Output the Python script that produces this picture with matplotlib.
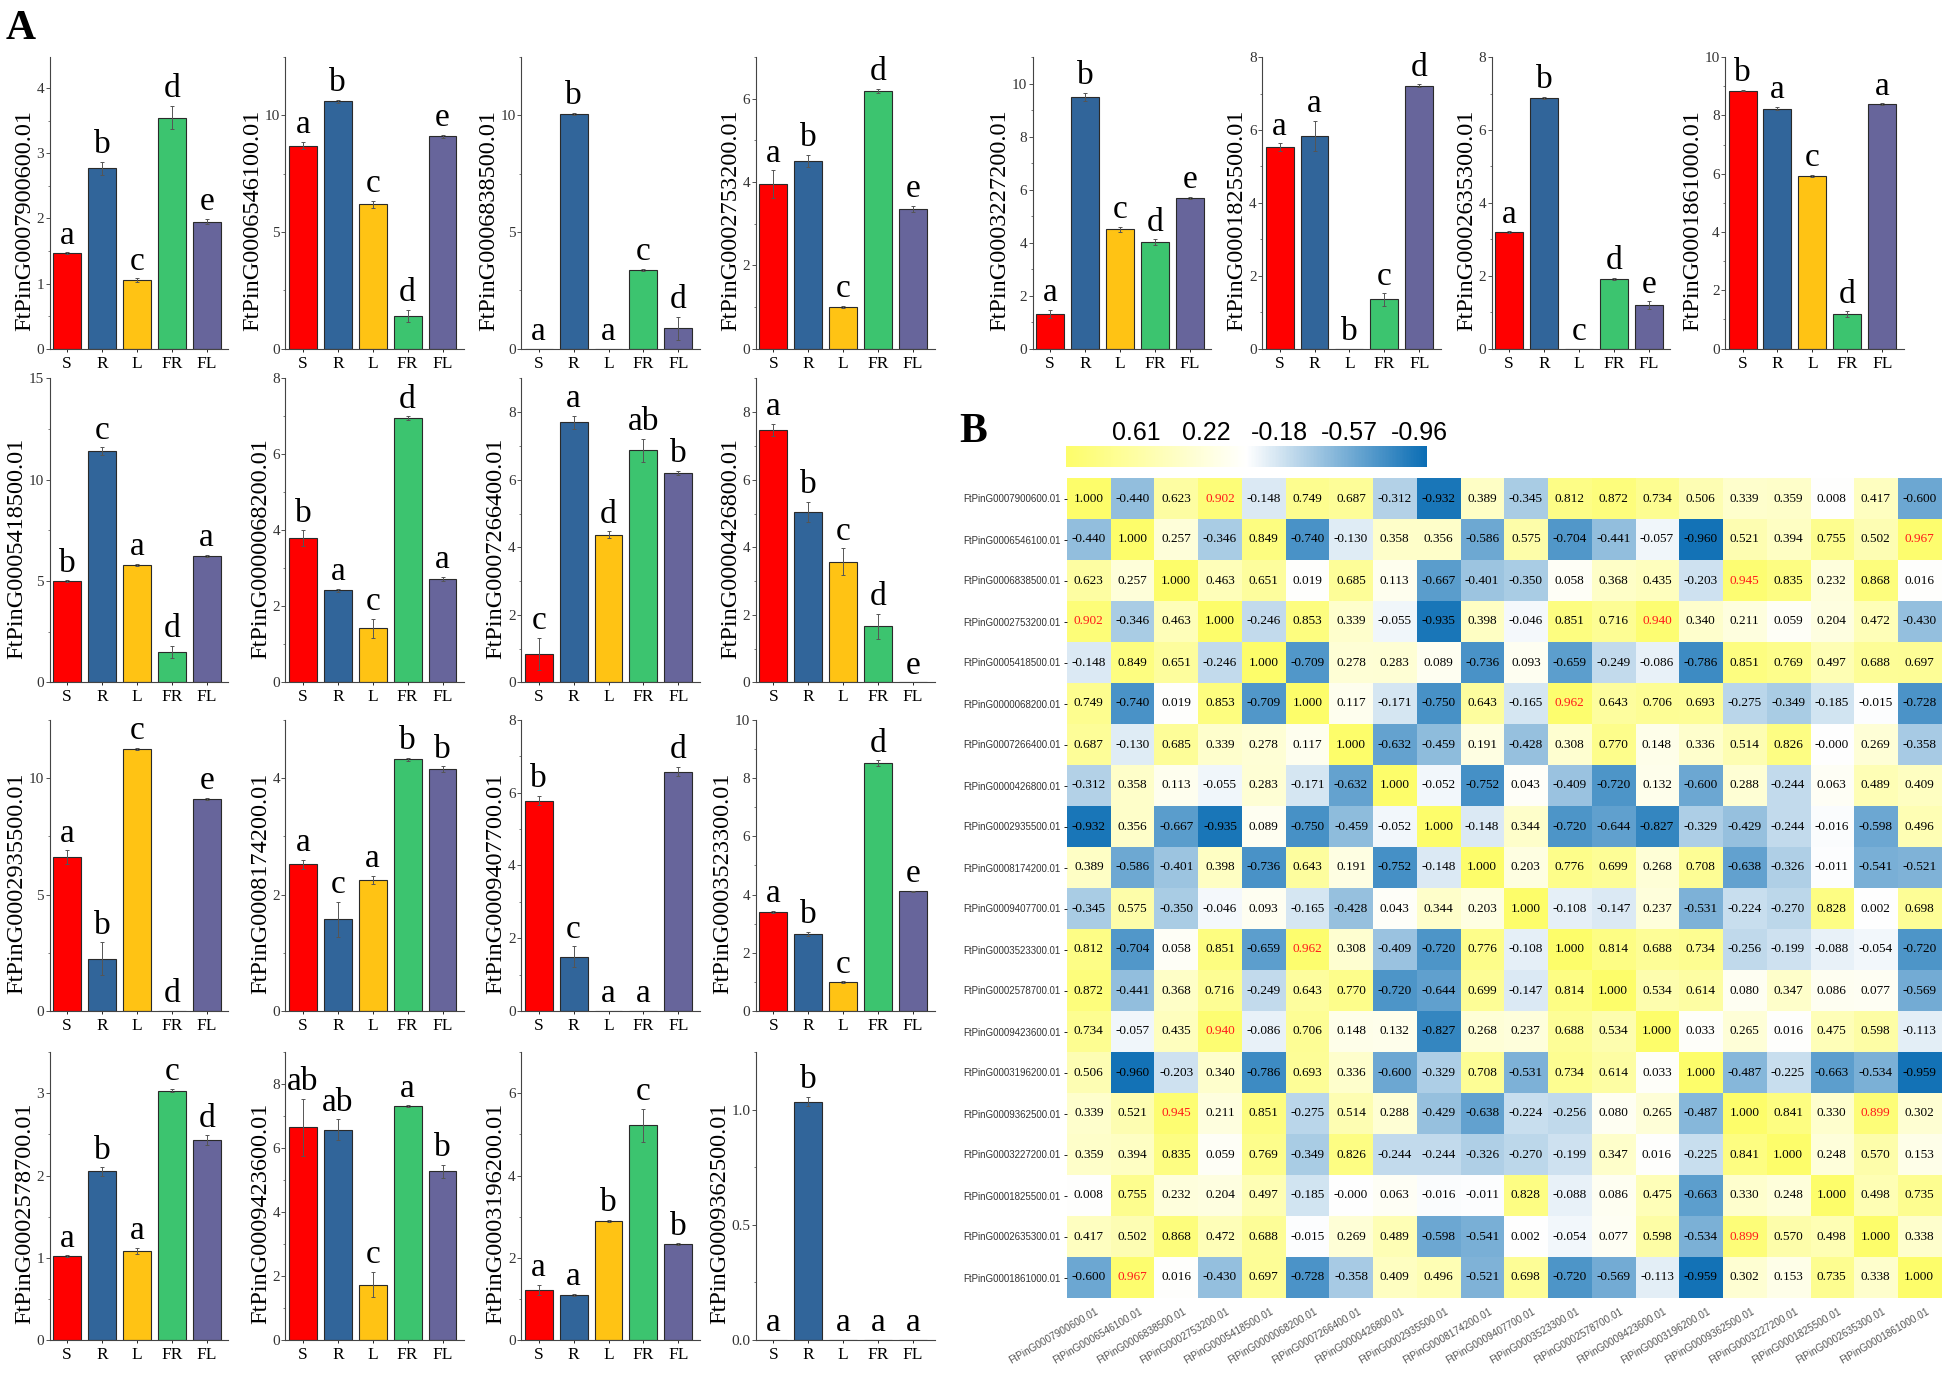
import numpy as np
import matplotlib
matplotlib.use("Agg")
import matplotlib.pyplot as plt
from matplotlib.colors import LinearSegmentedColormap, Normalize
from matplotlib.cm import ScalarMappable
from matplotlib.ticker import AutoMinorLocator

plt.rcParams['font.family'] = ['Liberation Serif', 'DejaVu Serif']

# ---- bar chart data (panel A) ----
tissues = ["S", "R", "L", "FR", "FL"]
bar_colors = ["#ff0000", "#31659a", "#ffc314", "#3cc46f", "#67659b"]

bar_genes = ["FtPinG0007900600.01", "FtPinG0006546100.01", "FtPinG0006838500.01",
             "FtPinG0002753200.01", "FtPinG0003227200.01", "FtPinG0001825500.01",
             "FtPinG0002635300.01", "FtPinG0001861000.01", "FtPinG0005418500.01",
             "FtPinG0000068200.01", "FtPinG0007266400.01", "FtPinG0000426800.01",
             "FtPinG0002935500.01", "FtPinG0008174200.01", "FtPinG0009407700.01",
             "FtPinG0003523300.01", "FtPinG0002578700.01", "FtPinG0009423600.01",
             "FtPinG0003196200.01", "FtPinG0009362500.01"]

means = [[1.47, 2.77, 1.05, 3.55, 1.95],
         [8.7, 10.6, 6.2, 1.4, 9.1],
         [0, 10.05, 0, 3.37, 0.87],
         [3.95, 4.5, 1.0, 6.18, 3.35],
         [1.3, 9.5, 4.5, 4.02, 5.68],
         [5.53, 5.83, 0, 1.35, 7.22],
         [3.2, 6.88, 0, 1.92, 1.2],
         [8.85, 8.23, 5.92, 1.18, 8.38],
         [5.0, 11.4, 5.8, 1.5, 6.25],
         [3.8, 2.42, 1.42, 6.95, 2.72],
         [0.85, 7.7, 4.37, 6.87, 6.2],
         [7.48, 5.05, 3.57, 1.67, 0],
         [6.6, 2.25, 11.25, 0, 9.1],
         [2.52, 1.58, 2.25, 4.32, 4.15],
         [5.78, 1.5, 0, 0, 6.57],
         [3.4, 2.65, 1.0, 8.5, 4.12],
         [1.02, 2.05, 1.08, 3.03, 2.43],
         [6.65, 6.57, 1.73, 7.32, 5.28],
         [1.22, 1.1, 2.9, 5.22, 2.33],
         [0, 1.035, 0, 0, 0]]

errs = [[0.01, 0.1, 0.03, 0.18, 0.04],
        [0.15, 0.05, 0.15, 0.25, 0.05],
        [0, 0.05, 0, 0.05, 0.5],
        [0.33, 0.15, 0.02, 0.05, 0.08],
        [0.15, 0.15, 0.1, 0.1, 0.05],
        [0.1, 0.42, 0, 0.17, 0.03],
        [0.02, 0.03, 0, 0.03, 0.1],
        [0.02, 0.05, 0.03, 0.1, 0.03],
        [0.03, 0.2, 0.05, 0.3, 0.05],
        [0.2, 0.05, 0.25, 0.05, 0.05],
        [0.47, 0.2, 0.1, 0.35, 0.05],
        [0.17, 0.3, 0.4, 0.37, 0],
        [0.3, 0.7, 0.05, 0, 0.05],
        [0.08, 0.3, 0.07, 0.03, 0.05],
        [0.13, 0.28, 0, 0, 0.13],
        [0.03, 0.08, 0.02, 0.1, 0.02],
        [0.01, 0.05, 0.04, 0.02, 0.06],
        [0.9, 0.33, 0.4, 0.02, 0.2],
        [0.12, 0.03, 0.03, 0.4, 0.02],
        [0, 0.02, 0, 0, 0]]

letters = [["a", "b", "c", "d", "e"], ["a", "b", "c", "d", "e"],
           ["a", "b", "a", "c", "d"], ["a", "b", "c", "d", "e"],
           ["a", "b", "c", "d", "e"], ["a", "a", "b", "c", "d"],
           ["a", "b", "c", "d", "e"], ["b", "a", "c", "d", "a"],
           ["b", "c", "a", "d", "a"], ["b", "a", "c", "d", "a"],
           ["c", "a", "d", "ab", "b"], ["a", "b", "c", "d", "e"],
           ["a", "b", "c", "d", "e"], ["a", "c", "a", "b", "b"],
           ["b", "c", "a", "a", "d"], ["a", "b", "c", "d", "e"],
           ["a", "b", "a", "c", "d"], ["ab", "ab", "c", "a", "b"],
           ["a", "a", "b", "c", "b"], ["a", "b", "a", "a", "a"]]

ytops = [4.48, 12.5, 12.5, 7.0, 11.0, 8, 8, 10, 15, 8, 9, 9, 12.5, 5.0, 8, 10, 3.5, 9, 7, 1.25]
ysteps = [1, 5, 5, 2, 2, 2, 2, 2, 5, 2, 2, 2, 5, 2, 2, 2, 1, 2, 2, 0.5]

# ---- correlation heatmap data (panel B) ----
heat_genes = ["FtPinG0007900600.01", "FtPinG0006546100.01", "FtPinG0006838500.01",
              "FtPinG0002753200.01", "FtPinG0005418500.01", "FtPinG0000068200.01",
              "FtPinG0007266400.01", "FtPinG0000426800.01", "FtPinG0002935500.01",
              "FtPinG0008174200.01", "FtPinG0009407700.01", "FtPinG0003523300.01",
              "FtPinG0002578700.01", "FtPinG0009423600.01", "FtPinG0003196200.01",
              "FtPinG0009362500.01", "FtPinG0003227200.01", "FtPinG0001825500.01",
              "FtPinG0002635300.01", "FtPinG0001861000.01"]

corr = np.array([
    [1.000, -0.440, 0.623, 0.902, -0.148, 0.749, 0.687, -0.312, -0.932, 0.389, -0.345, 0.812, 0.872, 0.734, 0.506, 0.339, 0.359, 0.008, 0.417, -0.600],
    [-0.440, 1.000, 0.257, -0.346, 0.849, -0.740, -0.130, 0.358, 0.356, -0.586, 0.575, -0.704, -0.441, -0.057, -0.960, 0.521, 0.394, 0.755, 0.502, 0.967],
    [0.623, 0.257, 1.000, 0.463, 0.651, 0.019, 0.685, 0.113, -0.667, -0.401, -0.350, 0.058, 0.368, 0.435, -0.203, 0.945, 0.835, 0.232, 0.868, 0.016],
    [0.902, -0.346, 0.463, 1.000, -0.246, 0.853, 0.339, -0.055, -0.935, 0.398, -0.046, 0.851, 0.716, 0.940, 0.340, 0.211, 0.059, 0.204, 0.472, -0.430],
    [-0.148, 0.849, 0.651, -0.246, 1.000, -0.709, 0.278, 0.283, 0.089, -0.736, 0.093, -0.659, -0.249, -0.086, -0.786, 0.851, 0.769, 0.497, 0.688, 0.697],
    [0.749, -0.740, 0.019, 0.853, -0.709, 1.000, 0.117, -0.171, -0.750, 0.643, -0.165, 0.962, 0.643, 0.706, 0.693, -0.275, -0.349, -0.185, -0.015, -0.728],
    [0.687, -0.130, 0.685, 0.339, 0.278, 0.117, 1.000, -0.632, -0.459, 0.191, -0.428, 0.308, 0.770, 0.148, 0.336, 0.514, 0.826, -0.0, 0.269, -0.358],
    [-0.312, 0.358, 0.113, -0.055, 0.283, -0.171, -0.632, 1.000, -0.052, -0.752, 0.043, -0.409, -0.720, 0.132, -0.600, 0.288, -0.244, 0.063, 0.489, 0.409],
    [-0.932, 0.356, -0.667, -0.935, 0.089, -0.750, -0.459, -0.052, 1.000, -0.148, 0.344, -0.720, -0.644, -0.827, -0.329, -0.429, -0.244, -0.016, -0.598, 0.496],
    [0.389, -0.586, -0.401, 0.398, -0.736, 0.643, 0.191, -0.752, -0.148, 1.000, 0.203, 0.776, 0.699, 0.268, 0.708, -0.638, -0.326, -0.011, -0.541, -0.521],
    [-0.345, 0.575, -0.350, -0.046, 0.093, -0.165, -0.428, 0.043, 0.344, 0.203, 1.000, -0.108, -0.147, 0.237, -0.531, -0.224, -0.270, 0.828, 0.002, 0.698],
    [0.812, -0.704, 0.058, 0.851, -0.659, 0.962, 0.308, -0.409, -0.720, 0.776, -0.108, 1.000, 0.814, 0.688, 0.734, -0.256, -0.199, -0.088, -0.054, -0.720],
    [0.872, -0.441, 0.368, 0.716, -0.249, 0.643, 0.770, -0.720, -0.644, 0.699, -0.147, 0.814, 1.000, 0.534, 0.614, 0.080, 0.347, 0.086, 0.077, -0.569],
    [0.734, -0.057, 0.435, 0.940, -0.086, 0.706, 0.148, 0.132, -0.827, 0.268, 0.237, 0.688, 0.534, 1.000, 0.033, 0.265, 0.016, 0.475, 0.598, -0.113],
    [0.506, -0.960, -0.203, 0.340, -0.786, 0.693, 0.336, -0.600, -0.329, 0.708, -0.531, 0.734, 0.614, 0.033, 1.000, -0.487, -0.225, -0.663, -0.534, -0.959],
    [0.339, 0.521, 0.945, 0.211, 0.851, -0.275, 0.514, 0.288, -0.429, -0.638, -0.224, -0.256, 0.080, 0.265, -0.487, 1.000, 0.841, 0.330, 0.899, 0.302],
    [0.359, 0.394, 0.835, 0.059, 0.769, -0.349, 0.826, -0.244, -0.244, -0.326, -0.270, -0.199, 0.347, 0.016, -0.225, 0.841, 1.000, 0.248, 0.570, 0.153],
    [0.008, 0.755, 0.232, 0.204, 0.497, -0.185, -0.0, 0.063, -0.016, -0.011, 0.828, -0.088, 0.086, 0.475, -0.663, 0.330, 0.248, 1.000, 0.498, 0.735],
    [0.417, 0.502, 0.868, 0.472, 0.688, -0.015, 0.269, 0.489, -0.598, -0.541, 0.002, -0.054, 0.077, 0.598, -0.534, 0.899, 0.570, 0.498, 1.000, 0.338],
    [-0.600, 0.967, 0.016, -0.430, 0.697, -0.728, -0.358, 0.409, 0.496, -0.521, 0.698, -0.720, -0.569, -0.113, -0.959, 0.302, 0.153, 0.735, 0.338, 1.000]])

cbar_ticks = [0.61, 0.22, -0.18, -0.57, -0.96]

# ---- layout (measured on a 1568x1109 copy) ----
W, H = 1568.0, 1109.0
left_x = [40, 230, 420, 609]
right_x = [832, 1017, 1202, 1390]
rows = [(46, 281), (305, 550), (580, 815), (848, 1080)]
pw = 144

fig = plt.figure(figsize=(19.46, 13.76), dpi=100)

for i, gene in enumerate(bar_genes):
    if i < 8:
        r = 0
        x0 = (left_x + right_x)[i]
    else:
        r = (i - 8) // 4 + 1
        x0 = left_x[(i - 8) % 4]
    top, bot = rows[r]
    ax = fig.add_axes([x0 / W, 1 - bot / H, pw / W, (bot - top) / H])
    xs = np.arange(5)
    m = np.array(means[i])
    e = np.array(errs[i])
    ax.bar(xs, m, width=0.8, color=bar_colors, edgecolor='#2a2a2a', linewidth=0.8)
    sel = e > 0
    ax.errorbar(xs[sel], m[sel], yerr=e[sel], fmt='none', ecolor='#555555',
                elinewidth=0.7, capsize=1.5, capthick=0.7)
    for x, v, er, lt in zip(xs, m, e, letters[i]):
        ax.text(x, v + er + ytops[i] * 0.006, lt, ha='center', va='bottom',
                fontsize=24, family='Liberation Serif')
    ax.set_xlim(-0.5, 4.62)
    ax.set_ylim(0, ytops[i])
    ax.set_yticks(np.arange(0, ytops[i] + 1e-9, ysteps[i]))
    ax.yaxis.set_minor_locator(AutoMinorLocator(2))
    ax.set_xticks(xs)
    ax.set_xticklabels(tissues, family='Liberation Serif')
    for s in ['top', 'right']:
        ax.spines[s].set_visible(False)
    for s in ['left', 'bottom']:
        ax.spines[s].set_color('#444444')
        ax.spines[s].set_linewidth(0.8)
    ax.tick_params(axis='y', which='major', direction='out', length=3, width=0.6,
                   labelsize=11, colors='#333333', pad=1)
    ax.tick_params(axis='y', which='minor', direction='out', length=1.8, width=0.5,
                   colors='#444444')
    ax.tick_params(axis='x', direction='out', length=2, width=0.6,
                   labelsize=12.5, pad=3)
    ax.set_ylabel(gene, fontsize=17.5, family='Liberation Serif', labelpad=1)
    ax.yaxis.label.set_y(0.44)

# ---- heatmap ----
cmap = LinearSegmentedColormap.from_list("by", ["#0a6db4", "#ffffff", "#fdfd6a"])
norm = Normalize(vmin=-1, vmax=1)

axh = fig.add_axes([1067 / 1946, 1 - 1298 / 1376, 874 / 1946, 820 / 1376])
axh.imshow(corr, cmap=cmap, norm=norm, aspect='auto', interpolation='nearest')
n = len(heat_genes)
for r in range(n):
    for c in range(n):
        v = corr[r, c]
        col = '#ff1a1a' if 0.88 < v < 0.999 else 'black'
        axh.text(c, r, f"{v:.3f}", ha='center', va='center', fontsize=9.5,
                 color=col, family='Liberation Serif')
axh.set_yticks(range(n))
axh.set_yticklabels(heat_genes, fontsize=7, family='Liberation Sans', color='#333333')
axh.set_xticks(np.arange(n) + 0.15)
axh.set_xticklabels(heat_genes, fontsize=7.2, family='Liberation Sans', color='#555555',
                    rotation=30, ha='right', rotation_mode='anchor')
axh.tick_params(axis='y', length=2.5, width=0.6, pad=2)
axh.tick_params(axis='x', length=0, pad=6)
for s in axh.spines.values():
    s.set_visible(False)

# colour bar
cax = fig.add_axes([1066 / 1946, 1 - 467 / 1376, 361 / 1946, 21 / 1376])
cb = fig.colorbar(ScalarMappable(norm=norm, cmap=cmap), cax=cax, orientation='horizontal')
cb.outline.set_visible(False)
cax.invert_xaxis()
cax.xaxis.set_ticks_position('top')
cb.set_ticks(cbar_ticks)
cb.set_ticklabels([f"{t:.2f}" for t in cbar_ticks])
cax.tick_params(length=0, labelsize=18, pad=1)
for t in cax.get_xticklabels():
    t.set_family('Liberation Sans')

fig.text(0.003, 0.993, "A", fontsize=30, fontweight='bold', family='Liberation Serif', va='top')
fig.text(0.493, 0.700, "B", fontsize=30, fontweight='bold', family='Liberation Serif', va='top')

fig.savefig("out.png", dpi=100)
